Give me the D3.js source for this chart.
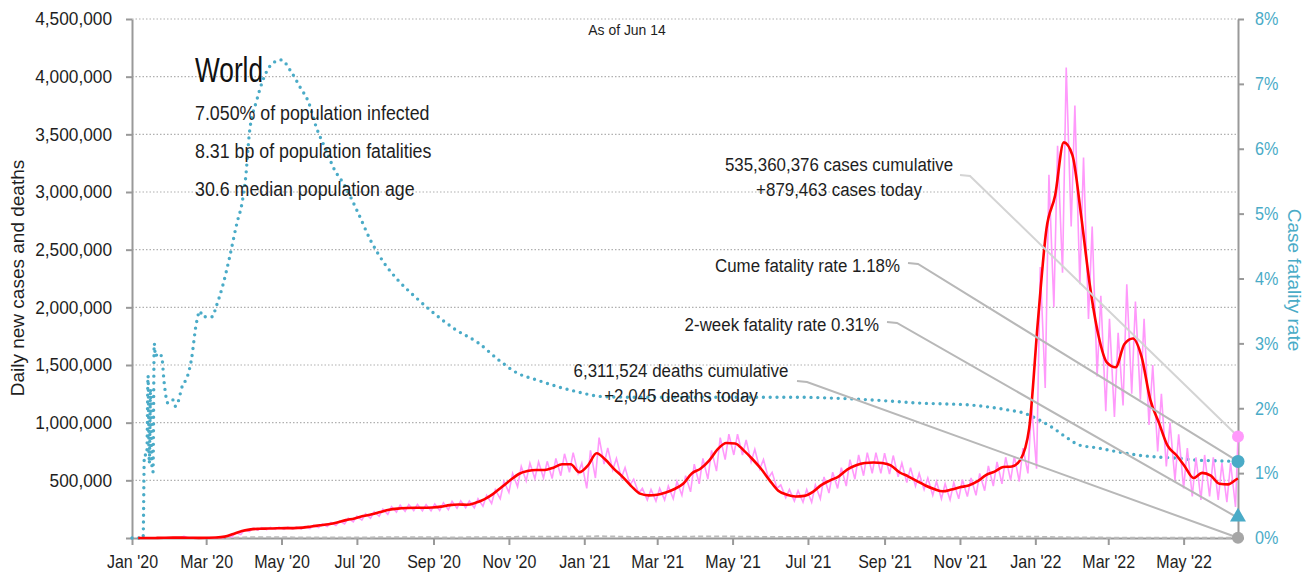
<!DOCTYPE html>
<html>
<head>
<meta charset="utf-8">
<script src="https://cdn.jsdelivr.net/npm/d3@7"></script>
<style>
  html, body { margin: 0; padding: 0; background: #fff; }
  svg text { font-family: "Liberation Sans", Arial, sans-serif; }
</style>
</head>
<body>
<div id="chart"></div>
<script>
'use strict';

// weekly samples, first week starts Mon Jan 6 2020 (values in thousands)
var weekStart = '2020-01-06';
var casesAvgK = [
  0, 0, 0.5, 2, 3, 3, 2, 1, 2, 4,
  12, 35, 60, 75, 80, 82, 84, 86, 86, 90,
  100, 110, 120, 135, 155, 170, 190, 205, 225, 245,
  255, 260, 262, 262, 265, 272, 285, 290, 288, 305,
  335, 380, 440, 500, 555, 580, 590, 590, 610, 640,
  640, 570, 630, 735, 680, 600, 530, 450, 385, 370,
  375, 395, 425, 470, 560, 600, 670, 770, 824, 820,
  760, 685, 600, 500, 410, 375, 360, 365, 400, 460,
  500, 535, 595, 630, 650, 655, 650, 630, 570, 535,
  495, 455, 425, 405, 420, 440, 455, 490, 545, 575,
  615, 620, 680, 950, 1870, 2680, 2970, 3430, 3320, 2800,
  2200, 1760, 1520, 1480, 1680, 1730, 1570, 1200, 1000, 800,
  720, 620, 520, 565, 540, 470, 465, 510
];
var casesHighK = [
  0, 0, 1, 3, 4, 15, 3, 2, 3, 6,
  18, 45, 70, 85, 90, 92, 95, 95, 95, 100,
  110, 122, 135, 148, 172, 190, 210, 228, 250, 272,
  285, 290, 292, 290, 295, 305, 318, 322, 320, 340,
  370, 420, 490, 560, 620, 650, 660, 665, 690, 730,
  740, 650, 760, 870, 780, 690, 610, 510, 430, 420,
  430, 450, 490, 540, 640, 690, 760, 870, 900, 900,
  850, 770, 680, 570, 460, 420, 410, 420, 460, 530,
  570, 610, 680, 720, 740, 740, 735, 715, 650, 610,
  560, 520, 490, 470, 480, 505, 520, 560, 625, 660,
  700, 710, 780, 1150, 2350, 3150, 3400, 4080, 3750, 3300,
  2700, 2100, 1900, 1780, 2200, 2050, 1900, 1500, 1250, 1000,
  900, 780, 700, 720, 700, 650, 650
];
var casesLowK = [
  0, 0, 0.5, 2, 3, 2, 1, 1, 1, 3,
  10, 30, 55, 68, 72, 74, 76, 78, 78, 82,
  90, 100, 108, 122, 140, 155, 172, 188, 205, 225,
  232, 238, 236, 235, 238, 245, 258, 262, 262, 275,
  300, 340, 395, 445, 495, 515, 520, 515, 540, 570,
  560, 430, 520, 640, 590, 520, 460, 390, 330, 320,
  330, 340, 370, 400, 470, 510, 580, 680, 720, 720,
  660, 600, 520, 430, 350, 320, 310, 310, 340, 390,
  430, 450, 510, 540, 560, 560, 555, 530, 480, 450,
  420, 370, 340, 330, 340, 360, 370, 410, 450, 470,
  500, 490, 560, 600, 1300, 2000, 2300, 2700, 2200, 1900,
  1400, 1100, 1050, 1150, 1250, 1200, 980, 750, 620, 500,
  430, 360, 330, 360, 330, 310, 270
];
var deathsAvgK = [
  0, 0, 0.02, 0.05, 0.09, 0.1, 0.1, 0.07, 0.07, 0.3,
  0.8, 2.2, 4.5, 6.5, 7.3, 7.0, 6.3, 5.8, 5.2, 4.8,
  4.4, 4.3, 4.4, 4.6, 4.8, 4.8, 5.2, 5.4, 5.8, 6.0,
  6.1, 6.0, 5.9, 5.7, 5.6, 5.4, 5.4, 5.3, 5.5, 5.7,
  6.0, 6.4, 7.4, 8.8, 9.8, 10.5, 10.8, 11.2, 11.5, 11.6,
  11.3, 11.9, 13.5, 14.3, 14.0, 12.7, 11.0, 9.6, 8.8, 8.6,
  8.8, 9.2, 10.0, 10.8, 11.8, 12.6, 13.4, 13.6, 13.0, 12.2,
  11.0, 10.0, 9.0, 8.4, 8.2, 8.0, 8.6, 9.2, 9.8, 10.0,
  10.2, 10.0, 9.5, 9.0, 8.4, 8.0, 7.7, 7.3, 7.0, 7.0,
  7.1, 7.3, 7.1, 7.0, 7.0, 6.8, 6.8, 7.2, 7.5, 7.8,
  8.8, 10.0, 10.5, 10.4, 10.0, 9.0, 7.5, 6.0, 5.0, 4.2,
  3.8, 3.5, 3.2, 2.8, 2.6, 2.3, 2.1, 2.0, 1.9, 1.9,
  1.8, 1.7, 1.75, 1.7, 1.7, 2.0, 2.05, 2.05
];

// cumulative case fatality rate, percent
var cfrSeries = [
  ['2020-01-01', 0], ['2020-01-10', 0], ['2020-01-11', 1.28], ['2020-01-13', 1.28],
  ['2020-01-14', 2.5], ['2020-01-15', 1.15], ['2020-01-16', 2.3], ['2020-01-17', 1.15],
  ['2020-01-18', 1.02], ['2020-01-19', 3.0], ['2020-01-20', 2.8], ['2020-01-22', 2.85],
  ['2020-01-25', 2.8], ['2020-01-27', 2.4], ['2020-01-30', 2.08], ['2020-02-03', 2.13],
  ['2020-02-05', 2.03], ['2020-02-08', 2.14], ['2020-02-10', 2.3], ['2020-02-15', 2.5],
  ['2020-02-18', 2.74], ['2020-02-22', 3.3], ['2020-02-25', 3.5], ['2020-02-27', 3.41],
  ['2020-03-06', 3.41], ['2020-03-09', 3.56], ['2020-03-15', 3.93], ['2020-03-20', 4.33],
  ['2020-03-26', 4.86], ['2020-03-30', 5.16], ['2020-04-02', 5.56], ['2020-04-05', 6.24],
  ['2020-04-11', 6.75], ['2020-04-16', 7.06], ['2020-04-24', 7.32], ['2020-05-01', 7.37],
  ['2020-05-08', 7.21], ['2020-05-16', 6.95], ['2020-05-23', 6.71], ['2020-05-29', 6.34],
  ['2020-06-06', 5.98], ['2020-06-13', 5.67], ['2020-06-20', 5.47], ['2020-07-02', 5.01],
  ['2020-07-12', 4.59], ['2020-07-23', 4.24], ['2020-08-03', 3.98], ['2020-08-17', 3.72],
  ['2020-09-01', 3.47], ['2020-09-19', 3.21], ['2020-10-07', 3.01], ['2020-10-24', 2.74],
  ['2020-11-08', 2.54], ['2020-11-23', 2.44], ['2020-12-11', 2.33], ['2020-12-25', 2.26],
  ['2021-01-16', 2.18], ['2021-02-10', 2.17], ['2021-03-08', 2.17], ['2021-04-12', 2.17],
  ['2021-05-19', 2.17], ['2021-06-24', 2.17], ['2021-07-15', 2.16], ['2021-08-20', 2.13],
  ['2021-09-29', 2.08], ['2021-11-09', 2.05], ['2021-12-11', 1.97], ['2021-12-22', 1.93],
  ['2022-01-04', 1.82], ['2022-01-15', 1.70], ['2022-01-27', 1.54], ['2022-02-06', 1.43],
  ['2022-02-20', 1.39], ['2022-03-08', 1.33], ['2022-03-24', 1.28], ['2022-04-09', 1.25],
  ['2022-04-26', 1.23], ['2022-05-12', 1.20], ['2022-05-28', 1.19], ['2022-06-14', 1.18]
];

var lastDate = '2022-06-14';
var casesToday = 879463;
var deathsToday = 2045;
var casesTodayAvg = 515000;
var cumeFatality = 1.18;
var twoWeekFatality = 0.31;

var yTicks = [0, 500000, 1000000, 1500000, 2000000, 2500000, 3000000, 3500000, 4000000, 4500000];
var y2Ticks = [0, 1, 2, 3, 4, 5, 6, 7, 8];

var infoLines = ['7.050% of population infected', '8.31 bp of population fatalities', '30.6 median population age'];

var W = 1312, H = 580
  , margin = {top: 19, right: 74, bottom: 42, left: 132}
  , teal = '#4aabc7'
  , pink = '#ff99fb'
  , ink = '#1e1e1e'
  , parse = d3.utcParse('%Y-%m-%d')
  , day = 864e5;

var x = d3.scaleUtc()
  .domain([parse('2020-01-01'), parse(lastDate)])
  .range([margin.left, W - margin.right]);
var y = d3.scaleLinear().domain([0, 4500000]).range([H - margin.bottom, margin.top]);
var y2 = d3.scaleLinear().domain([0, 8]).range([H - margin.bottom, margin.top]);

var svg = d3.select('#chart').append('svg')
  .attr('width', W).attr('height', H);

// text squeezed horizontally to mimic a condensed face
function label(parent, tx, ty, str, size, k, anchor, fill) {
  return parent.append('text')
    .attr('transform', 'translate(' + tx + ',' + ty + ') scale(' + k + ',1)')
    .attr('text-anchor', anchor || 'start')
    .style('font-size', size + 'px')
    .attr('fill', fill || ink)
    .text(str);
}

// gridlines
svg.append('g').selectAll('line')
  .data(yTicks.filter(function (d) { return d > 0; }))
  .enter().append('line')
    .attr('x1', margin.left).attr('x2', W - margin.right)
    .attr('y1', function (d) { return y(d); }).attr('y2', function (d) { return y(d); })
    .attr('stroke', '#b0b0b0').attr('stroke-width', 1.2).attr('stroke-dasharray', '1.5,2');

// axes
function styleAxis(g, color, k) {
  g.select('.domain').attr('stroke', '#999').attr('stroke-width', 2);
  g.selectAll('.tick line').attr('stroke', '#999').attr('stroke-width', 2);
  g.selectAll('.tick text')
    .attr('fill', color).style('font-size', '18px')
    .attr('x', function () { return +d3.select(this).attr('x') / k; })
    .attr('transform', 'scale(' + k + ',1)');
}

svg.append('g')
  .attr('transform', 'translate(' + margin.left + ',0)')
  .call(d3.axisLeft(y).tickValues(yTicks).tickSize(6).tickPadding(14).tickSizeOuter(0)
    .tickFormat(function (d) { return d === 0 ? '' : d3.format(',')(d); }))
  .call(styleAxis, ink, 0.96);

svg.append('g')
  .attr('transform', 'translate(' + (W - margin.right) + ',0)')
  .call(d3.axisRight(y2).tickValues(y2Ticks).tickSize(6).tickPadding(11).tickSizeOuter(0)
    .tickFormat(function (d) { return d + '%'; }))
  .call(styleAxis, teal, 0.9);

svg.append('g')
  .attr('transform', 'translate(0,' + (H - margin.bottom) + ')')
  .call(d3.axisBottom(x).ticks(d3.utcMonth.every(2)).tickSize(7).tickPadding(10).tickSizeOuter(0)
    .tickFormat(d3.utcFormat("%b '%y")))
  .call(styleAxis, ink, 0.89);

// axis titles
svg.append('text')
  .attr('transform', 'translate(24,278) rotate(-90)')
  .attr('text-anchor', 'middle').style('font-size', '19px').attr('fill', ink)
  .text('Daily new cases and deaths');
svg.append('text')
  .attr('transform', 'translate(1288,280) rotate(90)')
  .attr('text-anchor', 'middle').style('font-size', '19px').attr('fill', teal)
  .text('Case fatality rate');

// series
var start = parse(weekStart);
function weekDate(i, offset) { return new Date(start.getTime() + (i * 7 + offset) * day); }

var pinkPts = [];
casesHighK.forEach(function (v, i) {
  pinkPts.push([weekDate(i, 2), v * 1000]);
  if (i < casesLowK.length) pinkPts.push([weekDate(i, 6), casesLowK[i] * 1000]);
});
pinkPts.push([parse(lastDate), casesToday]);

var avgPts = casesAvgK.map(function (v, i) { return [weekDate(i, 0), v * 1000]; });
avgPts.push([parse(lastDate), casesTodayAvg]);

var deathPts = deathsAvgK.map(function (v, i) { return [weekDate(i, 0), v * 1000]; });
deathPts.push([parse(lastDate), deathsToday]);

var cfrPts = cfrSeries.map(function (d) { return [parse(d[0]), d[1]]; });

var line = d3.line()
  .x(function (d) { return x(d[0]); })
  .y(function (d) { return y(d[1]); });
var line2 = d3.line()
  .x(function (d) { return x(d[0]); })
  .y(function (d) { return y2(d[1]); });

svg.append('path').datum(cfrPts)
  .attr('d', line2.curve(d3.curveMonotoneX))
  .attr('fill', 'none').attr('stroke', teal).attr('stroke-width', 3.4)
  .attr('stroke-linecap', 'round').attr('stroke-dasharray', '0,6.8');

svg.append('path').datum(deathPts)
  .attr('d', line.curve(d3.curveLinear))
  .attr('fill', 'none').attr('stroke', '#bbb').attr('stroke-width', 2)
  .attr('stroke-dasharray', '5,3');

svg.append('path').datum(pinkPts)
  .attr('d', line.curve(d3.curveLinear))
  .attr('fill', 'none').attr('stroke', pink).attr('stroke-width', 1.6);

svg.append('path').datum(avgPts)
  .attr('d', line.curve(d3.curveMonotoneX))
  .attr('fill', 'none').attr('stroke', '#ff0000').attr('stroke-width', 2.6)
  .attr('stroke-linejoin', 'round');

// annotations with leader lines to the end markers
var xEnd = x(parse(lastDate));
var notes = [
  {lines: ['535,360,376 cases cumulative', '+879,463 cases today'], tx: 839, ty: 171, from: [960, 175], to: y(casesToday), stroke: '#d4d4d4'},
  {lines: ['Cume fatality rate 1.18%'], tx: 900, ty: 272, anchor: 'end', from: [908, 263], to: y2(cumeFatality), stroke: '#b8b8b8'},
  {lines: ['2-week fatality rate 0.31%'], tx: 879, ty: 331, anchor: 'end', from: [887, 322], to: y2(twoWeekFatality), stroke: '#b8b8b8'},
  {lines: ['6,311,524 deaths cumulative', '+2,045 deaths today'], tx: 681, ty: 377, from: [797, 381], to: y(deathsToday), stroke: '#b8b8b8'}
];

notes.forEach(function (n) {
  svg.append('polyline')
    .attr('points', [n.from, [n.from[0] + 10, n.from[1] + 1], [xEnd, n.to]].join(' '))
    .attr('fill', 'none').attr('stroke', n.stroke).attr('stroke-width', 2);
  n.lines.forEach(function (s, i) {
    label(svg, n.tx, n.ty + i * 25, s, 19, 0.89, n.anchor || 'middle');
  });
});

// end markers
svg.append('circle').attr('cx', xEnd).attr('cy', y(casesToday)).attr('r', 6).attr('fill', pink);
svg.append('circle').attr('cx', xEnd).attr('cy', y2(cumeFatality)).attr('r', 6.5).attr('fill', teal);
svg.append('path')
  .attr('d', d3.symbol().type(d3.symbolTriangle).size(110)())
  .attr('transform', 'translate(' + xEnd + ',' + (y2(twoWeekFatality) - 1) + ')')
  .attr('fill', teal);
svg.append('circle').attr('cx', xEnd).attr('cy', y(deathsToday)).attr('r', 6).attr('fill', '#a6a6a6');

// title block
label(svg, 195, 82, 'World', 35, 0.75, 'start', '#111');
infoLines.forEach(function (s, i) {
  label(svg, 195, 120 + i * 38, s, 20, 0.89);
});

label(svg, 627, 35, 'As of Jun 14', 15, 0.93, 'middle');
</script>
</body>
</html>
